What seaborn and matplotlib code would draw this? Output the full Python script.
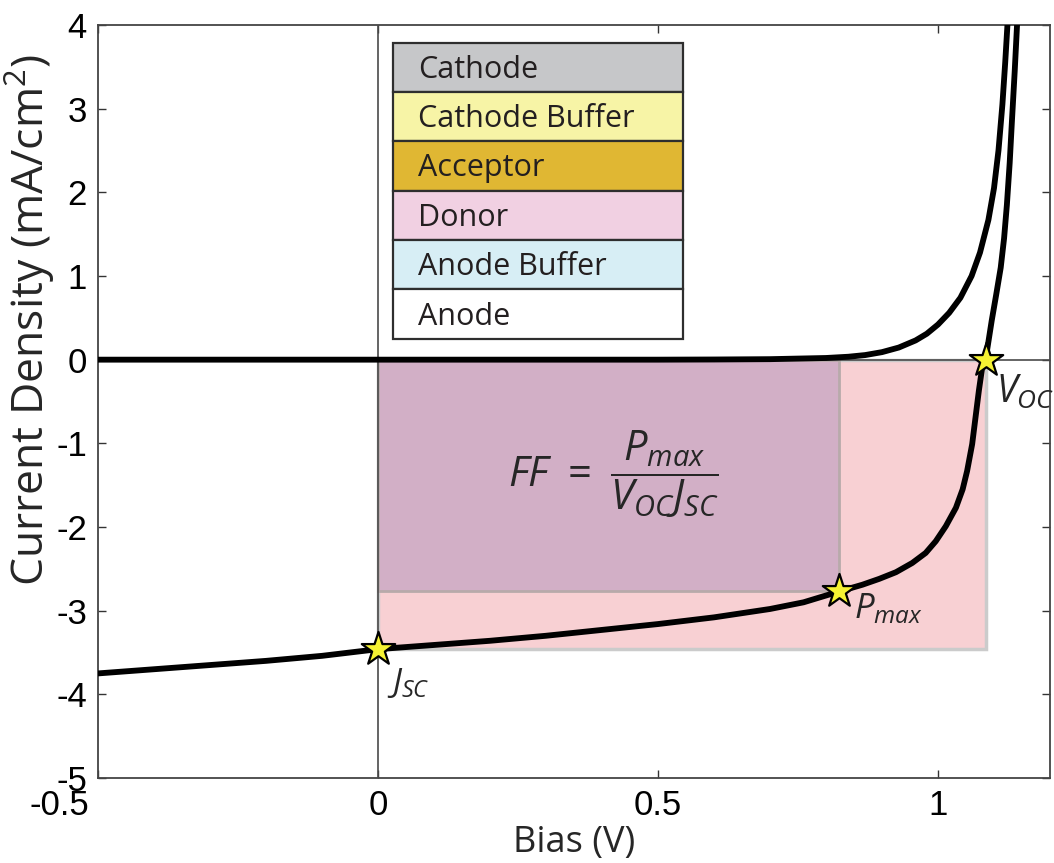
import numpy as np
import pandas as pd
import matplotlib
matplotlib.use("Agg")
import matplotlib.pyplot as plt
import seaborn as sns
from matplotlib.patches import Rectangle
from matplotlib import font_manager
from matplotlib.transforms import ScaledTranslation

# ---------------- data ----------------
bias_light = [-0.5, -0.4, -0.3, -0.2, -0.1, 0.0, 0.1, 0.2, 0.3, 0.4, 0.5, 0.6, 0.7, 0.76,
              0.824, 0.865, 0.895, 0.925, 0.954, 0.978, 0.996, 1.014, 1.032, 1.044, 1.052,
              1.061, 1.067, 1.073, 1.079, 1.085, 1.096, 1.104, 1.112, 1.118, 1.123, 1.128,
              1.132, 1.137, 1.141, 1.146]
j_light = [-3.75, -3.70, -3.65, -3.60, -3.54, -3.46, -3.41, -3.36, -3.30, -3.23, -3.16, -3.08,
           -2.98, -2.90, -2.77, -2.69, -2.62, -2.54, -2.43, -2.31, -2.17, -1.99, -1.77, -1.55,
           -1.33, -1.01, -0.69, -0.37, -0.09, 0.0, 0.47, 0.78, 1.10, 1.45, 1.85, 2.35,
           2.85, 3.45, 3.98, 4.6]

bias_dark = [-0.5, 0.0, 0.5, 0.6, 0.7, 0.8, 0.84, 0.87, 0.90, 0.93, 0.96, 0.98, 1.00, 1.02,
             1.04, 1.06, 1.075, 1.09, 1.10, 1.108, 1.115, 1.12, 1.124, 1.128]
j_dark = [0.0, 0.0, 0.0, 0.002, 0.006, 0.02, 0.035, 0.055, 0.09, 0.145, 0.23, 0.31, 0.42, 0.56,
          0.74, 1.00, 1.28, 1.67, 2.05, 2.50, 3.05, 3.55, 4.0, 4.5]

point_labels = [r"$J_{SC}$", r"$P_{max}$", r"$V_{OC}$"]
point_bias = [0.0, 0.824, 1.085]
point_j = [-3.46, -2.77, 0.0]

layers = ["Cathode", "Cathode Buffer", "Acceptor", "Donor", "Anode Buffer", "Anode"]
layer_colors = ["#c6c7c9", "#f7f4a6", "#e0b733", "#f1d0e2", "#d7eef5", "#ffffff"]

x_ticks = [-0.5, 0, 0.5, 1]
x_ticklabels = ["-0.5", "0", "0.5", "1"]
y_ticks = [-5, -4, -3, -2, -1, 0, 1, 2, 3, 4]
y_ticklabels = ["-5", "-4", "-3", "-2", "-1", "0", "1", "2", "3", "4"]

# ---------------- style ----------------
sns.set_style("ticks")
avail = {f.name for f in font_manager.fontManager.ttflist}
sans = "Open Sans" if "Open Sans" in avail else "DejaVu Sans"
arial = "Liberation Sans" if "Liberation Sans" in avail else "DejaVu Sans"
plt.rcParams["font.family"] = [sans, "DejaVu Sans"]
plt.rcParams["mathtext.fontset"] = "custom"
plt.rcParams["mathtext.rm"] = sans
plt.rcParams["mathtext.it"] = sans + ":italic"
plt.rcParams["mathtext.bf"] = sans + ":bold"

fig = plt.figure(figsize=(10.54, 8.63), dpi=100)
ax = fig.add_axes([98 / 1054, 1 - 778 / 863, (1050 - 98) / 1054, (778 - 25) / 863])

v_oc = point_bias[2]
j_sc = point_j[0]
p_v, p_j = point_bias[1], point_j[1]

# zero lines
ax.axhline(0, color="#4a4a4a", lw=1.2, zorder=3.5)
ax.axvline(0, color="#4a4a4a", lw=1.2, zorder=3.5)

# power rectangles
ax.add_patch(Rectangle((0, j_sc), v_oc, -j_sc, facecolor="#f8d0d3",
                       edgecolor="#cbcbcb", lw=2.5, zorder=2))
ax.add_patch(Rectangle((0, p_j), p_v, -p_j, facecolor="#d2afc6",
                       edgecolor="#b8aaaa", lw=2, zorder=3))

# curves
df_light = pd.DataFrame({"bias": bias_light, "j": j_light})
df_dark = pd.DataFrame({"bias": bias_dark, "j": j_dark})
sns.lineplot(data=df_dark, x="bias", y="j", color="black", lw=4.2, ax=ax, zorder=4,
             solid_capstyle="round", solid_joinstyle="round")
sns.lineplot(data=df_light, x="bias", y="j", color="black", lw=4.2, ax=ax, zorder=4,
             solid_capstyle="round", solid_joinstyle="round")

# stars
df_pts = pd.DataFrame({"bias": point_bias, "j": point_j})
sns.scatterplot(data=df_pts, x="bias", y="j", marker="*", s=640, color="#f5f233",
                edgecolor="black", linewidth=1.6, ax=ax, zorder=6)

# point labels
ax.text(0.016, -3.97, point_labels[0], fontsize=24, ha="left", va="baseline", zorder=7)
ax.text(0.850, -3.09, point_labels[1], fontsize=25, ha="left", va="baseline", zorder=7)
ax.text(1.103, -0.52, point_labels[2], fontsize=27, ha="left", va="baseline", zorder=7)

# fill factor formula
ax.text(0.232, -1.37, r"$FF\ =\ \dfrac{P_{max}}{V_{OC}J_{SC}}$", fontsize=30,
        ha="left", va="center", zorder=7)

# device layer stack
x0, x1 = 0.027, 0.544
top, bot = 3.79, 0.25
h = (top - bot) / len(layers)
for i, (name, col) in enumerate(zip(layers, layer_colors)):
    y_top = top - i * h
    ax.add_patch(Rectangle((x0, y_top - h), x1 - x0, h, facecolor=col,
                           edgecolor="#2e2e2e", lw=1.6, zorder=5))
    ax.text(x0 + 0.044, y_top - h / 2 - 0.03, name, fontsize=22, color="#231f20",
            ha="left", va="center", zorder=6)

# axes
ax.set_xlim(-0.5, 1.2)
ax.set_ylim(-5, 4)
ax.set_xticks(x_ticks)
ax.set_xticklabels(x_ticklabels, fontfamily=arial, fontsize=25)
ax.set_yticks(y_ticks)
ax.set_yticklabels(y_ticklabels, fontfamily=arial, fontsize=25)
ax.tick_params(direction="in", length=6, width=1.0, top=True, right=True,
               pad=8, colors="#333333", labelcolor="black")
first = ax.get_xticklabels()[0]
first.set_horizontalalignment("right")
first.set_transform(first.get_transform() + ScaledTranslation(-6 / 72, 0, fig.dpi_scale_trans))
for sp in ax.spines.values():
    sp.set_color("#444444")
    sp.set_linewidth(1.3)
ax.set_xlabel("Bias (V)", fontsize=26)
ax.xaxis.set_label_coords(0.5, -0.062)
ax.set_ylabel("Current Density (mA/cm$^2$)", fontsize=32)
ax.yaxis.set_label_coords(-0.043, 0.608)

fig.savefig("out.png", dpi=100)
